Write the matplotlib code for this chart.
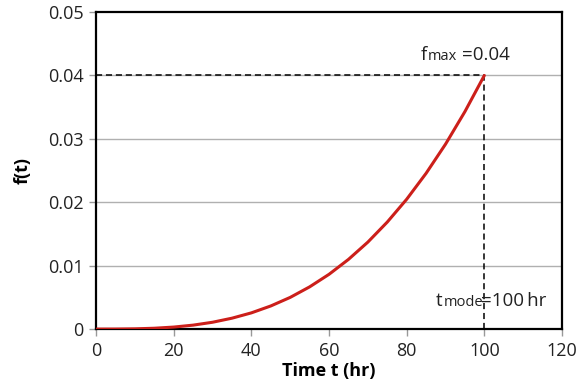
import matplotlib
matplotlib.use("Agg")
import matplotlib.pyplot as plt

plt.rcParams['font.family'] = ['Open Sans', 'DejaVu Sans']

t_hr = [0, 5, 10, 15, 20, 25, 30, 35, 40, 45, 50, 55, 60, 65, 70, 75, 80, 85, 90, 95, 100]
f_t = [0.0, 0.000005, 0.00004, 0.000135, 0.00032, 0.000625, 0.00108, 0.00172, 0.00256,
       0.00365, 0.005, 0.00666, 0.00864, 0.01099, 0.01372, 0.01688, 0.02048, 0.02457,
       0.02916, 0.0343, 0.04]
t_mode = 100
f_max = 0.04
x_ticks = [0, 20, 40, 60, 80, 100, 120]
y_ticks = [0, 0.01, 0.02, 0.03, 0.04, 0.05]
y_labels = ['0', '0.01', '0.02', '0.03', '0.04', '0.05']

fig = plt.figure(figsize=(5.86, 3.89), dpi=100)
ax = fig.add_axes([0.164, 0.154, 0.795, 0.815])

for y in y_ticks[1:-1]:
    ax.axhline(y, color='#b0b0b0', lw=1.0, zorder=0)

ax.plot(t_hr, f_t, color='#cc1f1a', lw=2.2, zorder=3, solid_capstyle='round',
        solid_joinstyle='round')
ax.plot([0, t_mode], [f_max, f_max], color='black', lw=1.1, ls=(0, (4, 2.5)), zorder=2)
ax.plot([t_mode, t_mode], [0, f_max], color='black', lw=1.1, ls=(0, (4, 2.5)), zorder=2)

ax.set_xlim(0, 120)
ax.set_ylim(0, 0.05)
ax.set_xticks(x_ticks)
ax.set_xticklabels([str(v) for v in x_ticks])
ax.set_yticks(y_ticks)
ax.set_yticklabels(y_labels)
ax.tick_params(axis='both', labelsize=13, colors='#222222', length=5, width=1, pad=4)
ax.tick_params(axis='both', color='#999999')
for s in ax.spines.values():
    s.set_color('black')
    s.set_linewidth(1.6)

ax.set_xlabel('Time t (hr)', fontsize=13, fontweight='bold', labelpad=2)
ax.set_ylabel('f(t)', fontsize=13, fontweight='bold', labelpad=12)

# annotations
ax.annotate('f', xy=(t_mode, f_max), xytext=(-46, 8), textcoords='offset points',
            fontsize=13.5, color='#222222', ha='left', va='bottom')
ax.annotate('max', xy=(t_mode, f_max), xytext=(-40.5, 8), textcoords='offset points',
            fontsize=10.5, color='#222222', ha='left', va='bottom')
ax.annotate('=0.04', xy=(t_mode, f_max), xytext=(-16, 8), textcoords='offset points',
            fontsize=13.5, color='#222222', ha='left', va='bottom')

ax.annotate('t', xy=(t_mode, 0), xytext=(-35, 14), textcoords='offset points',
            fontsize=13.5, color='#222222', ha='left', va='bottom')
ax.annotate('mode', xy=(t_mode, 0), xytext=(-29.5, 14), textcoords='offset points',
            fontsize=10.5, color='#222222', ha='left', va='bottom')
ax.annotate('=100\u2009hr', xy=(t_mode, 0), xytext=(-2.5, 14), textcoords='offset points',
            fontsize=13.5, color='#222222', ha='left', va='bottom')

fig.savefig('out.png', dpi=100)
